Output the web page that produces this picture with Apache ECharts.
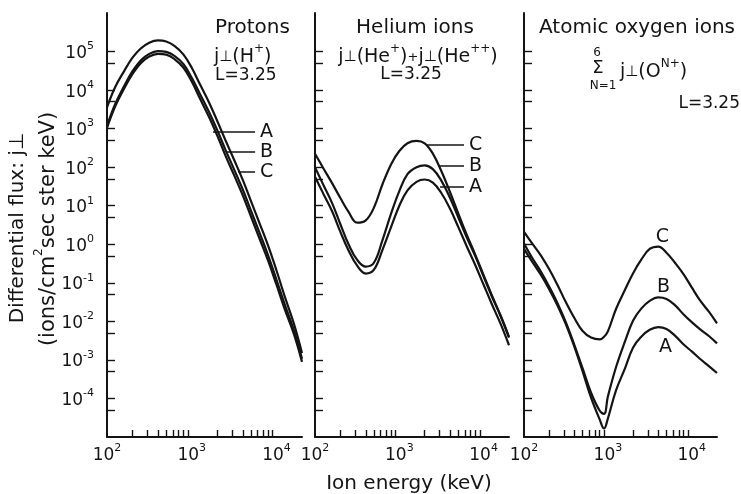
<!DOCTYPE html>
<html>
<head>
<meta charset="utf-8">
<script src="https://cdn.jsdelivr.net/npm/echarts@6/dist/echarts.min.js"></script>
<style>
  html, body { margin: 0; padding: 0; background: #fff; }
  #chart { width: 741px; height: 494px; }
</style>
</head>
<body>
<div id="chart"></div>
<script>
// ---------- energies (keV) ----------
const energyKeV = [100, 125, 160, 200, 250, 315, 400, 500, 630, 800, 1000, 1250, 1600,
                   2000, 2500, 3150, 4000, 5000, 6300, 8000, 10000, 12500, 16000, 20000];
const energyKeVOxygen = [100, 125, 160, 200, 250, 315, 400, 500, 630, 800, 900, 1000, 1250, 1600,
                   2000, 2500, 3150, 4000, 5000, 6300, 8000, 10000, 12500, 16000, 20000];

// ---------- protons: j⊥(H+) ----------
const protonA = [1050, 3800, 11200, 26300, 50100, 74100, 87100, 83200, 63100, 38000, 16600, 6030, 2000,
                 661, 200, 63.1, 18.6, 5.25, 1.41, 0.363, 0.0891, 0.0209, 0.00479, 0.000891];
const protonB = [1170, 4370, 12900, 30900, 58900, 87100, 102000, 97700, 75900, 46800, 20900, 7940, 2690,
                 912, 282, 89.1, 26.3, 7.41, 2.00, 0.501, 0.120, 0.0275, 0.00603, 0.00107];
const protonC = [3550, 12000, 31600, 69200, 120000, 170000, 195000, 182000, 138000, 83200, 38000, 14100, 4790,
                 1580, 501, 158, 46.8, 13.2, 3.55, 0.891, 0.209, 0.0447, 0.00891, 0.00151];

// ---------- helium: j⊥(He+) + j⊥(He++) ----------
const heliumA = [56.2, 20.9, 7.08, 2.09, 0.692, 0.282, 0.174, 0.219, 0.708, 2.82, 10.0, 25.1, 41.7,
                 47.9, 39.8, 21.4, 8.32, 2.82, 0.891, 0.282, 0.0891, 0.0282, 0.00832, 0.0024];
const heliumB = [100, 35.5, 11.5, 3.31, 1.00, 0.398, 0.263, 0.331, 1.26, 6.31, 24.0, 66.1, 100,
                 112, 89.1, 44.7, 15.8, 5.01, 1.51, 0.479, 0.145, 0.0447, 0.0132, 0.0038];
const heliumC = [224, 95.5, 38.0, 15.8, 6.92, 3.63, 4.17, 8.91, 35.5, 120, 263, 417, 479,
                 417, 224, 79.4, 22.4, 6.31, 1.78, 0.525, 0.158, 0.0479, 0.0138, 0.00398];

// ---------- atomic oxygen: sum over charge states N=1..6 ----------
const oxygenA = [0.759, 0.355, 0.158, 0.0676, 0.0263, 0.00851, 0.00214, 0.000501, 0.000105, 0.0000282,
                 0.0000166, 0.0000302, 0.000162, 0.000603, 0.00209, 0.00398, 0.00603, 0.00708, 0.00631,
                 0.00427, 0.00251, 0.00166, 0.00107, 0.000692, 0.000457];
const oxygenB = [1.05, 0.447, 0.191, 0.0794, 0.0302, 0.00955, 0.0024, 0.000603, 0.000141, 0.0000479,
                 0.0000398, 0.000112, 0.000646, 0.00302, 0.0105, 0.0214, 0.0339, 0.0417, 0.038,
                 0.0263, 0.0151, 0.00955, 0.00631, 0.00417, 0.00269];
const oxygenC = [2.09, 1.05, 0.501, 0.224, 0.0891, 0.0316, 0.012, 0.00562, 0.0038, 0.00339,
                 0.00398, 0.0055, 0.0209, 0.0661, 0.178, 0.398, 0.759, 0.871, 0.603,
                 0.331, 0.166, 0.0759, 0.0355, 0.0178, 0.00891];

// ---------- axis ticks ----------
const energyLabelTicks = [100, 1000, 10000];
const energyMinorTicks = [200, 300, 400, 500, 600, 700, 800, 900,
                          2000, 3000, 4000, 5000, 6000, 7000, 8000, 9000];
const fluxLabelTicks = [1e-4, 1e-3, 1e-2, 1e-1, 1, 10, 100, 1e3, 1e4, 1e5];
const fluxHalfTicks = [5e-5, 5e-4, 5e-3, 5e-2, 0.5, 5, 50, 500, 5e3, 5e4];

// ---------- curve labels: [name, start energy, end energy, flux] ----------
const protonLeaders = [['A', 1780, 5590, 811], ['B', 2610, 5590, 245], ['C', 3520, 5590, 74]];
const heliumLeaders = [['C', 2130, 5850, 373], ['B', 2930, 5850, 108], ['A', 3040, 5850, 30.7]];
const oxygenTags = [['C', 4480, 1.52], ['B', 4600, 0.0764], ['A', 4850, 0.00211]];

const FONT = '"DejaVu Sans", sans-serif';
const INK = '#141414';

function sup(n) { return '{b|10}{s|' + n + '}'; }
function powLabel(v) { return sup(Math.round(Math.log10(v))); }

const tickRich = {
  b: { fontSize: 17, fontFamily: FONT, color: INK, padding: [4, 0, 0, 0] },
  s: { fontSize: 11, fontFamily: FONT, color: INK, verticalAlign: 'top' }
};

const grids = [
  { left: 107, top: 13, width: 195, height: 424 },
  { left: 315, top: 13, width: 194, height: 424 },
  { left: 524, top: 13, width: 193, height: 424 }
];

const xAxes = grids.map((g, i) => ({
  type: 'log', logBase: 10, gridIndex: i, min: 100, max: 20000,
  axisLine: { show: true, onZero: false, lineStyle: { color: INK, width: 2 } },
  axisTick: { show: true, inside: true, length: 7, customValues: energyMinorTicks,
              lineStyle: { color: INK, width: 1.4 } },
  axisLabel: { show: true, customValues: energyLabelTicks, margin: 6,
               formatter: powLabel, rich: tickRich },
  splitLine: { show: false }, minorTick: { show: false }
}));

const yAxes = grids.map((g, i) => ({
  type: 'log', logBase: 10, gridIndex: i, min: 1e-5, max: 1e6,
  axisLine: { show: true, onZero: false, lineStyle: { color: INK, width: 2 } },
  axisTick: { show: true, inside: true, length: 8,
              customValues: fluxLabelTicks.concat(fluxHalfTicks),
              lineStyle: { color: INK, width: 1.4 } },
  axisLabel: { show: i === 0, customValues: fluxLabelTicks, margin: 13,
               formatter: powLabel, rich: tickRich },
  splitLine: { show: false }, minorTick: { show: false }
}));

function curve(energies, flux, gi, extra) {
  return Object.assign({
    type: 'line', xAxisIndex: gi, yAxisIndex: gi,
    data: energies.map((e, k) => [e, flux[k]]),
    showSymbol: false, symbol: 'none', smooth: 0.4, silent: true,
    lineStyle: { color: INK, width: 2.2 }, z: 3
  }, extra || {});
}

function leaders(defs) {
  return {
    silent: true, symbol: ['none', 'none'], animation: false,
    lineStyle: { color: INK, width: 1.5, type: 'solid' },
    label: { show: true, position: 'end', distance: 5, formatter: '{b}',
             fontSize: 19, fontFamily: FONT, color: INK },
    data: defs.map(d => [{ name: d[0], coord: [d[1], d[3]] }, { coord: [d[2], d[3]] }])
  };
}

const textRich = {
  t: { fontSize: 19, fontFamily: FONT, color: INK, padding: [5, 0, 0, 0] },
  u: { fontSize: 21, fontFamily: FONT, color: INK, padding: [5, 0, 0, 0] },
  p: { fontSize: 15, fontFamily: FONT, color: INK, padding: [5, 0, 0, 0] },
  m: { fontSize: 13, fontFamily: FONT, color: INK, padding: [5, 0, 0, 0] },
  s: { fontSize: 12, fontFamily: FONT, color: INK, verticalAlign: 'top' }
};

function label(x, y, text, align, size, rot) {
  return {
    type: 'text', x: x, y: y, rotation: rot || 0, silent: true,
    style: { text: text, fontSize: size || 19, fontFamily: FONT, fill: INK,
             align: align || 'left', verticalAlign: 'middle', rich: textRich }
  };
}

const graphics = [
  label(215, 28, 'Protons', 'left', 20),
  label(214, 55, '{t|j}{p|⊥}{t|(H}{s|+}{t|)}'),
  label(215, 76, 'L=3.25', 'left', 17),

  label(415, 28, 'Helium ions', 'center', 20),
  label(418, 55, '{t|j}{p|⊥}{t|(He}{s|+}{t|)}{m|+}{t|j}{p|⊥}{t|(He}{s|++}{t|)}', 'center'),
  label(411, 75, 'L=3.25', 'center', 17),

  label(539, 28, 'Atomic oxygen ions', 'left', 20),
  label(597, 53, '6', 'center', 12),
  label(598, 68, 'Σ', 'center', 18),
  label(603, 86, 'N=1', 'center', 12),
  label(620, 70, '{t|j}{p|⊥}{t|(O}{s|N+}{t|)}'),
  label(740, 104, 'L=3.25', 'right', 17),

  label(409, 484, 'Ion energy (keV)', 'center', 20),
  label(18, 228, 'Differential flux: j⊥', 'center', 20, Math.PI / 2),
  label(46, 229, '{u|(ions/cm}{s|2}{u|sec ster keV)}', 'center', 21, Math.PI / 2)
];

const chart = echarts.init(document.getElementById('chart'), null, { renderer: 'canvas' });
chart.setOption({
  animation: false,
  backgroundColor: '#ffffff',
  grid: grids.map(g => Object.assign({ outerBoundsMode: 'none' }, g)),
  xAxis: xAxes,
  yAxis: yAxes,
  graphic: graphics,
  series: [
    curve(energyKeV, protonA, 0, { markLine: leaders(protonLeaders) }),
    curve(energyKeV, protonB, 0),
    curve(energyKeV, protonC, 0),
    curve(energyKeV, heliumA, 1, { markLine: leaders(heliumLeaders) }),
    curve(energyKeV, heliumB, 1),
    curve(energyKeV, heliumC, 1),
    curve(energyKeVOxygen, oxygenA, 2, {
      markPoint: {
        silent: true, symbol: 'circle', symbolSize: 1, itemStyle: { color: 'rgba(0,0,0,0)' },
        label: { show: true, position: 'inside', formatter: '{b}', fontSize: 19,
                 fontFamily: FONT, color: INK },
        data: oxygenTags.map(d => ({ name: d[0], coord: [d[1], d[2]] }))
      }
    }),
    curve(energyKeVOxygen, oxygenB, 2),
    curve(energyKeVOxygen, oxygenC, 2)
  ]
});
</script>
</body>
</html>
